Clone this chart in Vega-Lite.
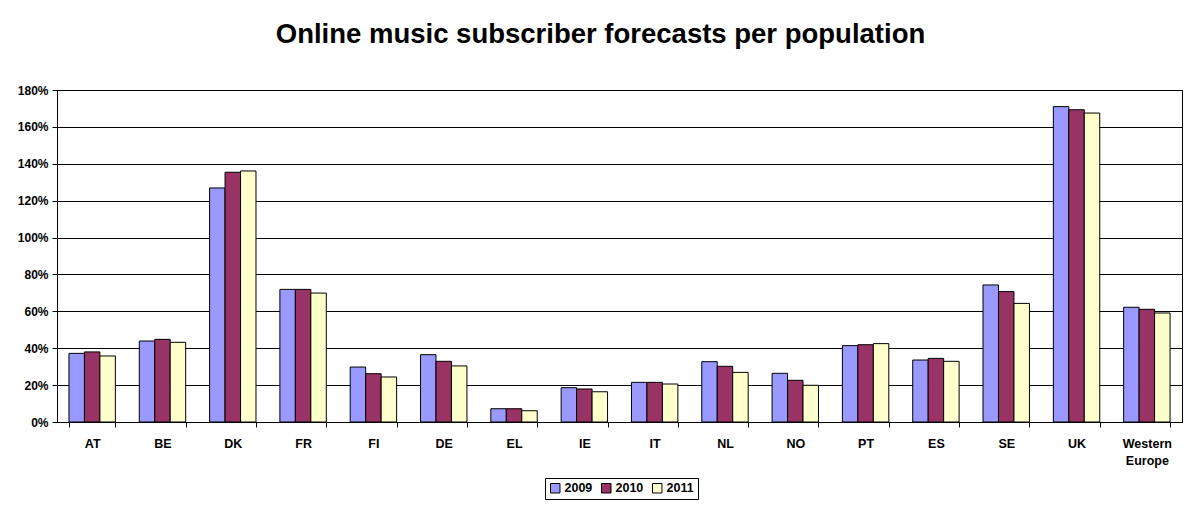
{
  "$schema": "https://vega.github.io/schema/vega-lite/v6.json",
  "width": 1125,
  "height": 332,
  "autosize": {"type": "none"},
  "padding": {"left": 57, "top": 90, "right": 10, "bottom": 90},
  "background": "white",
  "title": {
    "text": "Online music subscriber forecasts per population",
    "font": "Liberation Sans",
    "fontSize": 27.5,
    "fontWeight": "bold",
    "color": "black",
    "anchor": "middle",
    "offset": 36,
    "dx": -19
  },
  "config": {
    "font": "Liberation Sans",
    "view": {"stroke": "black", "strokeWidth": 1},
    "axis": {
      "labelFont": "Liberation Sans",
      "labelFontWeight": "bold",
      "labelColor": "black",
      "domainColor": "black",
      "tickColor": "black",
      "title": null
    },
    "legend": {
      "strokeColor": "black",
      "padding": 4,
      "labelFont": "Liberation Sans",
      "labelFontSize": 12.5,
      "labelFontWeight": "bold",
      "labelColor": "black",
      "symbolType": "square",
      "symbolSize": 90,
      "symbolStrokeColor": "black",
      "symbolStrokeWidth": 1,
      "columnPadding": 6,
      "labelOffset": 3
    }
  },
  "data": {
    "values": [
      {"country": "AT", "year": "2009", "value": 0.372},
      {"country": "AT", "year": "2010", "value": 0.380},
      {"country": "AT", "year": "2011", "value": 0.358},
      {"country": "BE", "year": "2009", "value": 0.439},
      {"country": "BE", "year": "2010", "value": 0.448},
      {"country": "BE", "year": "2011", "value": 0.432},
      {"country": "DK", "year": "2009", "value": 1.269},
      {"country": "DK", "year": "2010", "value": 1.354},
      {"country": "DK", "year": "2011", "value": 1.361},
      {"country": "FR", "year": "2009", "value": 0.719},
      {"country": "FR", "year": "2010", "value": 0.719},
      {"country": "FR", "year": "2011", "value": 0.699},
      {"country": "FI", "year": "2009", "value": 0.298},
      {"country": "FI", "year": "2010", "value": 0.262},
      {"country": "FI", "year": "2011", "value": 0.244},
      {"country": "DE", "year": "2009", "value": 0.365},
      {"country": "DE", "year": "2010", "value": 0.329},
      {"country": "DE", "year": "2011", "value": 0.304},
      {"country": "EL", "year": "2009", "value": 0.072},
      {"country": "EL", "year": "2010", "value": 0.072},
      {"country": "EL", "year": "2011", "value": 0.061},
      {"country": "IE", "year": "2009", "value": 0.186},
      {"country": "IE", "year": "2010", "value": 0.179},
      {"country": "IE", "year": "2011", "value": 0.164},
      {"country": "IT", "year": "2009", "value": 0.215},
      {"country": "IT", "year": "2010", "value": 0.215},
      {"country": "IT", "year": "2011", "value": 0.206},
      {"country": "NL", "year": "2009", "value": 0.327},
      {"country": "NL", "year": "2010", "value": 0.302},
      {"country": "NL", "year": "2011", "value": 0.269},
      {"country": "NO", "year": "2009", "value": 0.264},
      {"country": "NO", "year": "2010", "value": 0.226},
      {"country": "NO", "year": "2011", "value": 0.199},
      {"country": "PT", "year": "2009", "value": 0.414},
      {"country": "PT", "year": "2010", "value": 0.419},
      {"country": "PT", "year": "2011", "value": 0.425},
      {"country": "ES", "year": "2009", "value": 0.336},
      {"country": "ES", "year": "2010", "value": 0.345},
      {"country": "ES", "year": "2011", "value": 0.329},
      {"country": "SE", "year": "2009", "value": 0.743},
      {"country": "SE", "year": "2010", "value": 0.707},
      {"country": "SE", "year": "2011", "value": 0.643},
      {"country": "UK", "year": "2009", "value": 1.710},
      {"country": "UK", "year": "2010", "value": 1.693},
      {"country": "UK", "year": "2011", "value": 1.675},
      {"country": "Western Europe", "year": "2009", "value": 0.622},
      {"country": "Western Europe", "year": "2010", "value": 0.611},
      {"country": "Western Europe", "year": "2011", "value": 0.591}
    ]
  },
  "mark": {"type": "bar", "stroke": "black", "strokeWidth": 1},
  "encoding": {
    "x": {
      "field": "country",
      "type": "nominal",
      "sort": null,
      "scale": {"paddingInner": 0.34, "paddingOuter": 0.17},
      "axis": {
        "labelAngle": 0,
        "tickBand": "extent",
        "tickSize": 5,
        "labelFontSize": 12.5,
        "labelPadding": 10,
        "labelLineHeight": 17,
        "labelExpr": "split(datum.label, ' ')"
      }
    },
    "xOffset": {"field": "year", "type": "nominal", "scale": {"paddingInner": 0}},
    "y": {
      "field": "value",
      "type": "quantitative",
      "scale": {"domain": [0, 1.8]},
      "axis": {
        "values": [0, 0.2, 0.4, 0.6, 0.8, 1.0, 1.2, 1.4, 1.6, 1.8],
        "format": ".0%",
        "grid": true,
        "gridColor": "black",
        "gridOpacity": 1,
        "tickSize": 5,
        "labelFontSize": 12,
        "labelPadding": 4
      }
    },
    "color": {
      "field": "year",
      "type": "nominal",
      "scale": {"domain": ["2009", "2010", "2011"], "range": ["#9999FF", "#993366", "#FFFFCC"]},
      "legend": {"orient": "none", "direction": "horizontal", "title": null, "legendX": 488, "legendY": 388}
    }
  }
}
